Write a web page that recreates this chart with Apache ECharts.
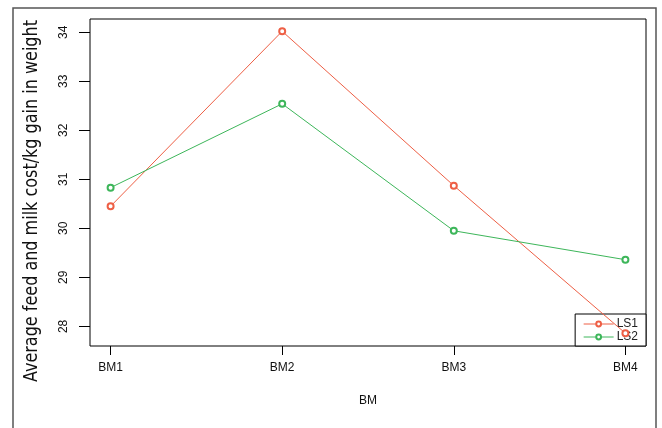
<!DOCTYPE html>
<html>
<head>
<meta charset="utf-8">
<script src="https://cdn.jsdelivr.net/npm/echarts@6/dist/echarts.min.js"></script>
<style>
  html, body { margin: 0; padding: 0; background: #fff; }
  #chart { width: 662px; height: 428px; }
</style>
</head>
<body>
<div id="chart"></div>
<script type="text/javascript">
// 数据
var categories = ['BM1', 'BM2', 'BM3', 'BM4'];
var ls1 = [30.45, 34.02, 30.87, 27.86];
var ls2 = [30.83, 32.54, 29.95, 29.36];
var yTicks = [28, 29, 30, 31, 32, 33, 34];
var xTicks = [1, 2, 3, 4];

var chart = echarts.init(document.getElementById('chart'));

function toPoints(arr) {
	var list = [];
	for (var i = 0; i < arr.length; i++) {
		list.push([i + 1, arr[i]]);
	}
	return list;
}

var options = {
	animation: false,
	backgroundColor: '#fff',
	grid: {
		left: 90, right: 16, top: 19, bottom: 82,
		show: true, borderColor: '#000', borderWidth: 1
	},
	legend: {
		right: 16, bottom: 82,
		z: 1,
		orient: 'vertical',
		backgroundColor: '#fff',
		borderColor: '#000', borderWidth: 1,
		borderRadius: 0,
		padding: [4, 8, 3, 8],
		itemGap: 1,
		itemWidth: 30, itemHeight: 6,
		lineStyle: { width: 1 },
		itemStyle: { borderWidth: 1 },
		textStyle: { fontFamily: 'Liberation Sans, Arial', fontSize: 12, color: '#222', padding: [0, 0, 0, -2] },
		data: ['LS1', 'LS2']
	},
	xAxis: {
		type: 'value',
		min: 0.88, max: 4.12,
		name: 'BM',
		nameLocation: 'middle',
		nameGap: 49,
		nameTextStyle: { fontFamily: 'Liberation Sans, Arial', fontSize: 12, color: '#111' },
		axisLine: { show: false },
		splitLine: { show: false },
		axisTick: { show: true, length: 9, customValues: xTicks, lineStyle: { color: '#000' } },
		axisLabel: {
			customValues: xTicks,
			margin: 16,
			fontFamily: 'Liberation Sans, Arial', fontSize: 12, color: '#111',
			formatter: function (v) { return categories[Math.round(v) - 1]; }
		}
	},
	yAxis: {
		type: 'value',
		min: 27.60, max: 34.27,
		axisLine: { show: false },
		splitLine: { show: false },
		axisTick: { show: true, length: 11, customValues: yTicks, lineStyle: { color: '#000' } },
		axisLabel: {
			customValues: yTicks,
			rotate: 90,
			margin: 20,
			fontFamily: 'Liberation Sans, Arial', fontSize: 12, color: '#111'
		}
	},
	graphic: [
		{
			type: 'polyline',
			shape: { points: [[13, 428], [13, 8], [656, 8], [656, 428]] },
			style: { fill: null, stroke: '#555', lineWidth: 1.5 },
			silent: true
		},
		{
			type: 'text',
			x: 32, y: 201,
			rotation: Math.PI / 2,
			scaleX: 0.89,
			style: {
				text: 'Average feed and milk cost/kg gain in weight',
				fontFamily: 'Liberation Sans Narrow, DejaVu Sans Condensed, Arial',
				fontSize: 20,
				fill: '#111',
				align: 'center',
				verticalAlign: 'middle'
			}
		}
	],
	series: [
		{
			name: 'LS1',
			type: 'line',
			z: 3,
			data: toPoints(ls1),
			symbol: 'emptyCircle',
			symbolSize: 6,
			lineStyle: { width: 1, color: '#EE5F45' },
			itemStyle: { color: '#EE5F45', borderWidth: 1 }
		},
		{
			name: 'LS2',
			type: 'line',
			z: 3,
			data: toPoints(ls2),
			symbol: 'emptyCircle',
			symbolSize: 6,
			lineStyle: { width: 1, color: '#3DB65A' },
			itemStyle: { color: '#3DB65A', borderWidth: 1 }
		}
	]
};
chart.setOption(options);
</script>
</body>
</html>
